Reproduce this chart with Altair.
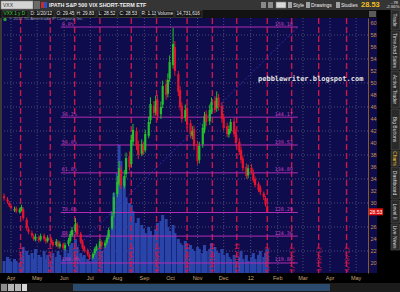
import altair as alt
import pandas as pd
import numpy as np

OX, OY = 2, 18          # plot-area origin inside the 400x292 page
W, H = 366, 255

# ---------------- data ----------------
opens = [31.2, 30.6, 30.0, 29.5, 28.8, 29.1, 28.5, 28.8, 29.0, 27.2,
         25.6, 25.0, 24.4, 23.9, 24.3, 23.9, 24.6, 24.0, 23.7, 24.1,
         23.5, 23.0, 23.5, 22.7, 23.1, 22.4, 23.1, 23.7, 24.6, 25.4,
         26.4, 24.9, 23.6, 22.7, 22.1, 21.3, 20.9, 21.6, 22.2, 22.8,
         23.5, 22.8, 23.4, 24.3, 25.8, 28.2, 31.5, 33.2, 35.5, 32.8,
         34.8, 37.8, 36.5, 40.2, 42.0, 39.8, 38.2, 39.6, 38.8, 41.2,
         43.8, 46.2, 45.2, 47.2, 44.8, 46.4, 49.8, 48.2, 50.8, 53.0,
         56.0, 51.5, 48.8, 46.2, 44.2, 45.8, 43.3, 41.2, 42.3, 39.8,
         37.2, 39.8, 42.2, 44.8, 43.6, 45.2, 47.0, 45.8, 47.6, 46.2,
         44.3, 42.8, 41.4, 42.0, 43.6, 41.8, 40.2, 38.8, 37.4, 36.0,
         34.6, 35.9, 35.0, 34.0, 33.2, 32.6, 31.6, 30.8, 29.45]
closes = [30.8, 30.2, 29.6, 29.2, 29.0, 28.6, 28.9, 29.3, 27.5, 25.8,
          25.2, 24.6, 24.0, 24.4, 23.8, 24.5, 24.0, 23.6, 24.2, 23.4,
          23.0, 23.6, 22.8, 23.2, 22.5, 23.0, 23.8, 24.8, 25.5, 26.6,
          24.8, 23.5, 22.6, 22.0, 21.4, 20.9, 21.5, 22.3, 22.8, 23.6,
          22.9, 23.4, 24.2, 25.5, 27.8, 31.0, 33.5, 35.8, 33.0, 34.5,
          37.5, 36.0, 40.5, 42.2, 39.5, 38.0, 39.8, 38.6, 41.5, 43.5,
          46.5, 45.0, 47.0, 44.5, 46.0, 49.5, 48.0, 50.5, 53.5, 56.5,
          52.0, 48.5, 46.0, 44.0, 45.5, 43.0, 41.5, 42.0, 39.5, 37.0,
          39.5, 42.5, 44.5, 43.5, 45.5, 46.8, 45.5, 47.5, 46.0, 44.0,
          42.5, 41.5, 42.3, 43.5, 41.5, 40.0, 38.5, 37.2, 35.8, 34.5,
          35.8, 35.2, 33.8, 33.0, 32.2, 31.8, 31.0, 29.8, 28.53]
highs = [31.6, 31.0, 30.3, 29.8, 29.4, 29.4, 29.2, 29.7, 29.3, 27.6,
         26.0, 25.4, 24.8, 24.9, 24.6, 24.9, 24.9, 24.3, 24.6, 24.4,
         23.8, 24.0, 23.8, 23.6, 23.4, 23.4, 24.2, 25.3, 26.0, 27.5,
         26.8, 25.2, 23.9, 23.0, 22.4, 21.6, 21.8, 22.6, 23.2, 24.0,
         23.8, 23.8, 24.6, 25.9, 28.4, 31.8, 34.5, 37.0, 36.2, 35.5,
         38.4, 38.6, 41.4, 43.2, 42.6, 40.4, 40.6, 40.2, 42.2, 44.4,
         47.6, 47.0, 47.9, 48.0, 46.9, 50.4, 50.6, 51.6, 54.6, 59.2,
         57.0, 52.0, 49.5, 46.8, 46.4, 46.4, 43.9, 42.8, 42.9, 40.4,
         40.2, 43.2, 45.2, 45.4, 46.4, 47.6, 47.8, 48.6, 48.2, 46.8,
         44.9, 43.4, 42.9, 44.0, 44.2, 42.4, 40.8, 39.4, 37.9, 36.6,
         36.4, 36.5, 35.6, 34.4, 33.6, 33.0, 31.9, 31.2, 29.83]
lows = [30.4, 29.9, 29.3, 28.9, 28.5, 28.3, 28.2, 28.6, 27.1, 25.4,
        24.8, 24.2, 23.7, 23.6, 23.4, 23.6, 23.7, 23.2, 23.4, 23.1,
        22.7, 22.7, 22.4, 22.4, 22.2, 22.1, 22.8, 23.4, 24.3, 25.1,
        24.4, 23.2, 22.3, 21.7, 21.1, 20.5, 20.6, 21.3, 22.0, 22.5,
        22.6, 22.5, 23.1, 24.0, 25.5, 27.6, 31.0, 32.8, 32.3, 32.4,
        34.2, 35.4, 36.0, 39.6, 38.8, 37.3, 37.8, 38.0, 38.4, 40.8,
        43.2, 44.2, 44.6, 43.8, 44.0, 45.8, 47.2, 47.6, 50.2, 52.4,
        51.2, 47.8, 45.4, 43.4, 43.6, 42.5, 40.8, 40.6, 38.8, 36.4,
        36.6, 39.2, 41.6, 42.8, 43.0, 44.8, 45.0, 45.2, 45.4, 43.4,
        42.0, 41.0, 40.9, 41.6, 41.0, 39.4, 38.0, 36.6, 35.3, 34.0,
        34.1, 34.8, 33.4, 32.6, 31.8, 31.3, 30.5, 29.4, 28.52]
volume_m = [12, 16, 14, 11, 14, 12, 10, 16, 26, 22,
            18, 20, 14, 24, 18, 16, 22, 14, 18, 12,
            20, 16, 22, 18, 14, 24, 20, 28, 30, 34,
            26, 20, 16, 18, 14, 12, 16, 18, 24, 28,
            22, 26, 30, 40, 62, 80, 100, 128, 112, 95,
            75, 70, 68, 62, 50, 55, 48, 44, 40, 46,
            42, 38, 44, 50, 52, 58, 54, 46, 42, 48,
            40, 34, 30, 28, 32, 26, 28, 24, 22, 26,
            24, 20, 28, 22, 24, 30, 26, 22, 20, 24,
            18, 20, 16, 14, 18, 12, 16, 22, 14, 18,
            12, 16, 20, 14, 18, 22, 16, 20, 24]

month_starts = ["2011-04-01", "2011-05-01", "2011-06-01", "2011-07-01", "2011-08-01",
                "2011-09-01", "2011-10-01", "2011-11-01", "2011-12-01", "2012-01-01",
                "2012-02-01", "2012-03-01", "2012-04-01", "2012-05-01"]
month_labels = ["Apr", "May", "Jun", "Jul", "Aug", "Sep", "Oct", "Nov", "Dec", "12",
                "Feb", "Mar", "Apr", "May"]
cycle_dates = ["2011-04-12", "2011-05-16", "2011-06-13", "2011-07-12", "2011-08-17",
               "2011-09-15", "2011-10-20", "2011-11-18", "2011-12-16", "2012-01-20",
               "2012-02-17", "2012-03-19", "2012-04-20"]
cycle_labels = ["4/12/11", "5/16/11", "6/13/11", "7/12/11", "8/17/11", "9/15/11",
                "10/20/11", "11/18/11", "12/16/11", "1/20/12", "2/17/12", "3/19/12", "4/20/12"]
price_ticks = [20, 22, 24, 26, 30, 32, 34, 36, 38, 40, 42, 44, 46, 48, 50,
               52, 54, 56, 58, 60]
grid_prices = [22, 26, 30, 34, 38, 42, 46, 50, 54, 58]
fib_pcts = [0.0, 38.2, 50.0, 61.8, 78.6, 88.6, 100.0]
fib_left = ["0.0%", "38.2%", "50.0%", "61.8%", "78.6%", "88.6%", "100.0%"]
fib_right = ["159.18", "144.17", "139.53", "134.89", "128.29", "124.36", "119.88"]
fib_high, fib_low = 59.33, 20.0
fib_start, fib_end = "2011-05-28", "2012-02-24"
last_price = 28.53

# ---------------- colours ----------------
NAVY = "#0e0c4c"
GRID = "#4b4b7c"
RED_DASH = "#c9164b"
FIB = "#b42cb4"
FIB_TXT = "#c640c6"
VOL = "#2a45aa"
UP, DOWN = "#22c02a", "#e5142e"

# ---------------- frames ----------------
n = len(closes)
bd = pd.bdate_range("2011-02-01", "2012-01-20")
sel = bd[::-1][::2][::-1][-n:]
df = pd.DataFrame({"date": sel, "open": opens, "high": highs, "low": lows,
                   "close": closes, "vol": volume_m})
df["dir"] = np.where(df["close"] >= df["open"], "up", "down")

months = pd.DataFrame({"date": pd.to_datetime(month_starts), "label": month_labels})
cycles = pd.DataFrame({"date": pd.to_datetime(cycle_dates), "label": cycle_labels})
grid = pd.DataFrame({"p": grid_prices})
fib = pd.DataFrame({"pct": fib_pcts, "left": fib_left, "right": fib_right})
fib["price"] = fib_high - fib["pct"] / 100.0 * (fib_high - fib_low)
fib["start"] = pd.to_datetime(fib_start)
fib["end"] = pd.to_datetime(fib_end)
diag = pd.DataFrame({"date": pd.to_datetime([fib_start, fib_end]), "price": [fib_low, fib_high]})
tag = pd.DataFrame({"p": [last_price], "t": [f"{last_price:.2f}"]})
one = pd.DataFrame({"k": [0]})

xs = alt.Scale(domain=[alt.DateTime(year=2011, month=3, date=21, hours=16),
                       alt.DateTime(year=2012, month=5, date=14, hours=14)])
ys = alt.Scale(domain=[18.3333, 60.8333], nice=False, zero=False)
vs = alt.Scale(domain=[0, 255], nice=False, zero=True)


def X(f):
    return alt.X(f + ":T", scale=xs, axis=None)


def Y(f):
    return alt.Y(f + ":Q", scale=ys, axis=None)


def rect(x1, y1, x2, y2, fill, stroke=None, sw=0.6):
    kw = dict(fill=fill)
    if stroke:
        kw.update(stroke=stroke, strokeWidth=sw)
    return alt.Chart(one).mark_rect(**kw).encode(
        x=alt.value(x1 - OX), x2=alt.value(x2 - OX),
        y=alt.value(y1 - OY), y2=alt.value(y2 - OY))


def text(s, x, y, size=5.0, color="#e6e6e6", align="left", baseline="middle",
         angle=0, font="Liberation Sans", weight="normal"):
    return alt.Chart(one).mark_text(
        text=s, fontSize=size, color=color, align=align, baseline=baseline,
        angle=angle, font=font, fontWeight=weight).encode(
        x=alt.value(x - OX), y=alt.value(y - OY))


layers = []

# frame pieces outside the plot area
layers += [
    rect(0, 0, 400, 10, "#353535"),
    rect(0, 10, 400, 18, "#121212"),
    rect(0, 18, 2, 273, "#3a3a3a"),
    rect(368, 18, 377, 273, NAVY),
    rect(377, 10, 400, 292, "#000000"),
    rect(0, 283, 400, 292, "#1b1b1b"),
    rect(73, 284, 330, 291, "#2a4a6e"),
    rect(1, 284, 7, 291, "#8c8c8c"),
    rect(8, 284, 14, 291, "#b4b4b4"),
    rect(15, 284, 21, 291, "#b4b4b4"),
    rect(22, 284, 27, 291, "#d8d8d8"),
]

# grid
layers.append(alt.Chart(months).mark_rule(color=GRID, strokeDash=[1, 2], strokeWidth=1)
              .encode(x=X("date")))
layers.append(alt.Chart(grid).mark_rule(color=GRID, strokeDash=[1, 2], strokeWidth=1)
              .encode(y=Y("p")))

# volume
layers.append(alt.Chart(df).mark_rule(color=VOL, strokeWidth=3)
              .encode(x=X("date"), y=alt.Y("vol:Q", scale=vs, axis=None), y2=alt.datum(0)))

# cycle lines
layers.append(alt.Chart(cycles).mark_rule(color=RED_DASH, strokeDash=[6, 3], strokeWidth=1.4)
              .encode(x=X("date")))

# fib diagonal and levels
layers.append(alt.Chart(diag).mark_line(color="#2e2eaa", strokeDash=[2, 2], strokeWidth=1)
              .encode(x=X("date"), y=Y("price")))
layers.append(alt.Chart(fib).mark_rule(color=FIB, strokeWidth=1)
              .encode(x=X("start"), x2="end:T", y=Y("price")))
layers.append(alt.Chart(fib).mark_text(align="left", baseline="bottom", dx=1, dy=-0.5,
                                       fontSize=5, color=FIB_TXT, font="DejaVu Sans Mono")
              .encode(x=X("start"), y=Y("price"), text="left:N"))
layers.append(alt.Chart(fib).mark_text(align="right", baseline="bottom", dx=-5, dy=-0.5,
                                       fontSize=5, color=FIB_TXT, font="DejaVu Sans Mono")
              .encode(x=X("end"), y=Y("price"), text="right:N"))

# candles
col = alt.Color("dir:N", scale=alt.Scale(domain=["up", "down"], range=[UP, DOWN]), legend=None)
layers.append(alt.Chart(df).mark_rule(strokeWidth=1).encode(
    x=X("date"),
    y=alt.Y("low:Q", scale=ys, axis=alt.Axis(
        orient="right", values=price_ticks, labelColor="#c8904e", labelFontSize=5.5,
        labelFont="Liberation Sans", ticks=False, tickSize=0, domainColor="#8a5a28",
        domainWidth=1, grid=False, labelPadding=2, title=None, zindex=1,
        labelOverlap=False, labelFlush=False)),
    y2="high:Q", color=col))
layers.append(alt.Chart(df).mark_rule(strokeWidth=2.2).encode(
    x=X("date"), y=Y("open"), y2="close:Q", color=col))

# cycle date labels and month labels
layers.append(alt.Chart(cycles).mark_text(angle=270, align="left", baseline="middle",
                                          fontSize=6, color="#d21a4e", font="DejaVu Sans Mono")
              .encode(x=X("date"), y=alt.value(272 - OY), text="label:N"))
layers.append(alt.Chart(months).mark_text(align="center", baseline="middle",
                                          fontSize=5.5, color="#c8a878", font="Liberation Sans")
              .encode(x=X("date"), y=alt.value(278 - OY), text="label:N"))

# last price tag
layers.append(alt.Chart(tag).mark_rule(color="#e01010", strokeWidth=7)
              .encode(x=alt.value(369 - OX), x2=alt.value(383 - OX), y=Y("p")))
layers.append(alt.Chart(tag).mark_text(align="center", baseline="middle", fontSize=5,
                                       color="#ffffff", font="Liberation Sans")
              .encode(x=alt.value(376 - OX), y=Y("p"), text="t:N"))

# header row 1
layers += [
    rect(1, 1, 33, 9, "#d4d4d4", "#888888"),
    text("VXX", 3, 5.2, size=5, color="#333333"),
    rect(34, 1, 40, 9, "#6a6a6a"),
    rect(41, 2, 44, 8, "#c03030"),
    rect(44, 2, 47, 8, "#3050c0"),
    text("IPATH S&P 500 VIX SHORT-TERM ETF", 49, 5.2, size=5.4, color="#f0f0f0", weight="bold"),
    rect(261, 2, 266, 8, "#8a8a8a"),
    rect(268, 2, 273, 8, "#8a8a8a"),
    rect(276, 2, 286, 8, "#d8d8d8", "#777777"),
    rect(288, 2, 292, 8, "#a0a0a0"),
    text("Style", 293, 5.2, size=5, color="#f0f0f0"),
    rect(306, 2, 310, 8, "#a0a0a0"),
    text("Drawings", 311, 5.2, size=5, color="#f0f0f0"),
    rect(336, 2, 340, 8, "#a0a0a0"),
    text("Studies", 341, 5.2, size=5, color="#f0f0f0"),
    text("28.53", 361, 5.3, size=7.5, color="#f2c21c", weight="bold"),
    text("-.78", 398, 2.8, size=4.3, color="#e0e0e0", align="right"),
    text("-2.66%", 399.5, 7.3, size=4.3, color="#e0e0e0", align="right"),
]

# header row 2 (quote fields)
fields = [("VXX 1 y D", 2, 28, "#44cc44"), ("D: 1/20/12", 29, 54, "#e8e8e8"),
          ("O: 29.45", 55, 74, "#e8e8e8"), ("H: 29.83", 75, 96, "#e8e8e8"),
          ("L: 28.52", 97, 117, "#e8e8e8"), ("C: 28.53", 118, 139, "#e8e8e8"),
          ("R: 1.13", 140, 155, "#e8e8e8"), ("Volume", 156, 174, "#e8e8e8"),
          ("14,731,616", 175, 202, "#e8e8e8")]
for s, a, b, c in fields:
    layers.append(rect(a, 10.5, b, 17.5, "#161616", "#4a4a4a"))
    layers.append(text(s, a + 1.5, 14.2, size=4.7, color=c))
layers.append(rect(369, 11, 376, 17, "#5a5a5a"))

# panel annotations
layers.append(alt.Chart(one).mark_circle(size=12, color="#2ea02e", opacity=1)
              .encode(x=alt.value(5 - OX), y=alt.value(19.6 - OY)))
layers.append(text("\u00a9 2012 TD Ameritrade IP Company, Inc.", 9, 19.4, size=4.2, color="#9a9aac"))
layers.append(text("pebblewriter.blogspot.com", 258, 79, size=7, color="#e4e4e4",
                   font="DejaVu Sans Mono", weight="bold"))

# sidebar tabs
tabs = [("Trade", 10, 30, "#d8d8d8"), ("Time And Sales", 31, 70, "#d8d8d8"),
        ("Active Trader", 71, 108, "#d8d8d8"), ("Big Buttons", 109, 150, "#d8d8d8"),
        ("Charts", 151, 166, "#f0c030"), ("Dashboard", 167, 199, "#d8d8d8"),
        ("Level II", 200, 223, "#d8d8d8"), ("Live News", 224, 250, "#d8d8d8")]
for s, a, b, c in tabs:
    layers.append(rect(391, a, 399.5, b, "#2a2a2a", "#555555"))
    layers.append(text(s, 395.3, (a + b) / 2, size=5, color=c, align="center", angle=90))

chart = alt.layer(*layers).resolve_scale(y="independent").properties(
    width=W, height=H,
    padding={"left": OX, "top": OY, "right": 400 - OX - W, "bottom": 292 - OY - H},
    autosize="none", background="#000000",
).configure_view(fill=NAVY, strokeWidth=0)

chart.save("out.html", embed_options={"renderer": "svg", "actions": False})
